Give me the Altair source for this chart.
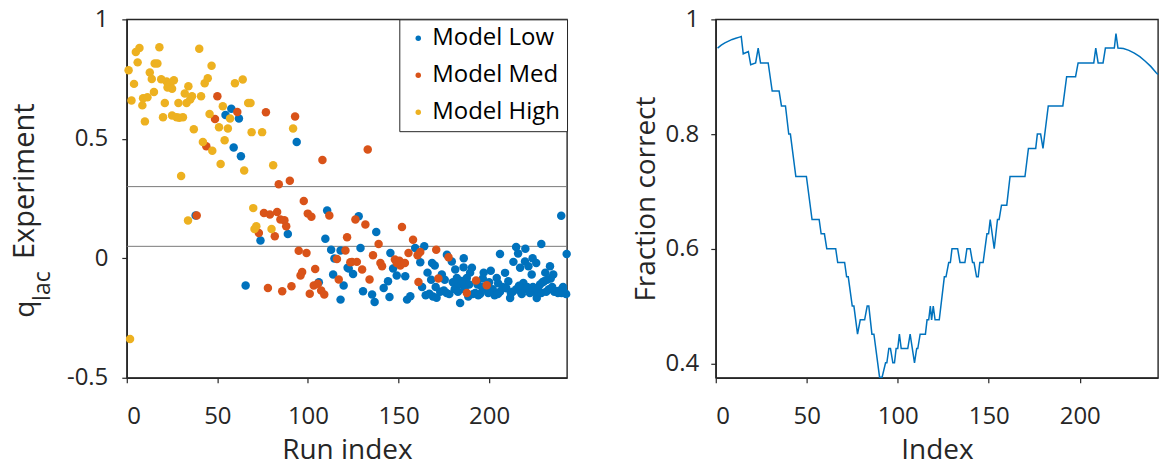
import altair as alt
import pandas as pd

FONT = "Open Sans"
AX = "#262626"

series_names = ["Model Low", "Model Med", "Model High"]
series_colors = ["#0072BD", "#D95319", "#EDB120"]

low_x = [54.5, 57.7, 61.9, 59, 63, 93.8, 38, 65.6, 73.8, 88.9, 110.6, 109.6, 112.8, 114.6, 118, 113.9,
         119.7, 118, 106, 121.9, 128, 137.7, 129, 145.5, 122.5, 124.9, 130.4, 135.4, 136.8, 141.8, 144.2,
         145, 147, 149, 153.7, 154.7, 156.5, 162, 164.2, 159.2, 165, 167, 169, 171, 173, 175, 176.5,
         173.9, 176.7, 179.4, 181.3, 182.2, 184.4, 184, 185.9, 187.7, 190.5, 192.3, 193.6, 195,
         180, 181, 183, 185, 187, 189, 191, 194, 200.9, 204.2, 206, 208.8, 210.6, 211.6, 213.4, 214.9,
         217.1, 218.9, 219.8, 221.7, 223.5, 226.3, 228.1, 228.8, 230.3, 233.6, 235.4, 237.3, 240, 241.9,
         239.8, 242.8, 200, 202, 203, 205, 206, 207.5, 213, 215, 217.5, 219.5, 221, 225, 227, 229.5, 232,
         234, 236, 238, 166, 168, 170, 163, 197, 198.5, 216, 220, 224, 226, 231, 233,
         170.5, 178, 182.8, 186.5, 188.5, 196, 199.5, 204.8, 209.5, 212, 216.5, 218, 222.5, 224.2, 228.8,
         231.5, 234.8, 239, 240.8, 242.5, 168.5, 175.5, 186, 189.5, 196.5]
low_y = [0.6, 0.626, 0.585, 0.464, 0.427, 0.487, 0.179, -0.114, 0.074, 0.102, 0.2, 0.082, 0.036, -0.001, 0.033, -0.068,
         -0.114, -0.173, -0.1, -0.04, 0.176, 0.11, 0.043, 0.022, -0.043, -0.066, -0.138, -0.152, -0.183, -0.124, -0.096,
         -0.162, -0.043, -0.072, -0.075, -0.173, -0.159, -0.017, 0.05, 0.043, -0.155, -0.148, -0.16, -0.165, -0.14, -0.135, -0.145,
         -0.068, 0.015, -0.013, -0.047, -0.082, -0.11, -0.187, -0.038, -0.082, -0.04, -0.145, -0.11, -0.149,
         -0.1, -0.13, -0.105, -0.095, -0.1, -0.11, -0.15, -0.155, -0.052, -0.082, 0.018, -0.061, -0.096, -0.166, -0.015, 0.047,
         -0.04, -0.103, -0.013, -0.033, -0.068, -0.166, -0.11, 0.06, -0.096, -0.033, -0.068, -0.138, -0.145, -0.145,
         0.178, 0.018, -0.1, -0.13, -0.155, -0.105, -0.14, -0.12, -0.14, -0.13, -0.14, -0.13, -0.12, -0.14, -0.125, -0.1, -0.09,
         -0.085, -0.14, -0.145, -0.06, -0.09, -0.03, -0.12, -0.06, -0.13, 0.02, 0.04, 0.0, -0.02, -0.06, -0.13,
         -0.12, -0.15, -0.14, -0.13, -0.16, -0.12, -0.145, -0.15, -0.125, -0.145, -0.115, -0.15, -0.145, -0.12, -0.145,
         -0.14, -0.12, -0.135, -0.12, -0.15, -0.02, -0.09, 0.0, -0.06, -0.085]

med_x = [50, 48.7, 61, 43.9, 76.8, 92.9, 108, 83.9, 90, 97.7, 133, 38.6, 75.7, 79, 83, 84.8, 87, 88, 72.9, 81.7,
         99.9, 101.9, 111.8, 94.9, 99.2, 96.8, 95.9, 104, 77.9, 85.8, 90.9, 101, 103.2, 105.4, 107.3, 109,
         116, 117, 121.6, 120.7, 123.4, 126.2, 131.7, 139, 124.3, 127, 129.9, 135.9, 140, 140.9, 134,
         151.9, 158, 148, 150.5, 151, 153.5, 149, 155.5, 160.5, 162, 161, 170.8, 177.6, 172, 187.7, 192.8, 198.7]
med_y = [0.678, 0.583, 0.612, 0.469, 0.611, 0.593, 0.411, 0.31, 0.325, 0.24, 0.455, 0.179, 0.19, 0.183, 0.194, 0.162, 0.159, 0.134, 0.106, 0.092,
         0.187, 0.174, 0.179, 0.032, 0.022, -0.057, -0.072, -0.045, -0.124, -0.138, -0.117, -0.148, -0.114, -0.107, -0.135, -0.152,
         -0.003, -0.089, 0.088, 0.033, -0.017, 0.162, 0.141, 0.06, -0.015, -0.015, -0.047, 0.013, -0.02, -0.033, -0.089,
         0.131, 0.078, -0.005, -0.01, -0.03, -0.02, -0.02, 0.022, 0.013, 0.026, -0.099, 0.036, 0.004, -0.085, -0.145, -0.093, -0.113]

high_x = [1, 5, 7, 6, 4, 2.6, 9, 8.6, 10, 12.7, 13.8, 15, 11.4, 15.4, 16.9, 18, 19, 21, 22, 23, 24, 22.5, 25, 26,
          20, 25, 27.5, 29, 31, 28.5, 30, 32, 34, 35, 33, 36, 40, 41, 43, 44.7, 46.8, 37, 45.7, 42, 47.2, 50.9,
          51.8, 53, 54, 55.8, 57, 59.7, 64, 64.8, 67, 68.3, 68.9, 74.7, 80.8, 91.8, 1.8, 33.8, 69.8, 71.5, 70.5, 79.9]
high_y = [0.787, 0.863, 0.88, 0.82, 0.73, 0.66, 0.67, 0.64, 0.573, 0.778, 0.75, 0.696, 0.674, 0.815, 0.815, 0.883, 0.749, 0.65, 0.74, 0.725, 0.73, 0.715, 0.71, 0.745,
          0.59, 0.598, 0.59, 0.588, 0.59, 0.65, 0.344, 0.69, 0.72, 0.665, 0.65, 0.678, 0.877, 0.678, 0.733, 0.754, 0.806, 0.54, 0.604, 0.487, 0.45, 0.548,
          0.395, 0.636, 0.494, 0.543, 0.585, 0.733, 0.748, 0.367, 0.65, 0.65, 0.528, 0.528, 0.389, 0.543, -0.338, 0.158, 0.21, 0.134, 0.123, 0.123]

ref_lines = [0.3, 0.05]

frac_x = [1, 3, 5, 7, 9, 11, 13, 14, 15.1, 17.9, 19.2, 21.9, 23.3, 24.6, 28.8, 31, 34.8, 36.1, 38.3, 40.1, 41, 44, 49.8,
          52.9, 56.8, 57.9, 59.7, 61, 65.9, 67, 70.8, 71.9, 72.8, 75, 75.9, 77.9, 79.4, 81.8, 83.2, 84.1, 85.8, 86.9,
          90, 91.4, 93.3, 94, 95.1, 96, 97.3, 98.2, 99.1, 100, 100.9, 101.9, 105.5, 106.8, 109.2, 110.4, 111, 112.3,
          115.2, 116.1, 117, 117.9, 118.6, 119.5, 120.5, 122.8, 125.6, 126.5, 128, 128.9, 129.8, 132.9, 134.2, 136.9,
          138, 139.8, 141.1, 141.9, 143.3, 144.2, 145.1, 146.9, 149, 149.9, 150.8, 153, 154.8, 155.7, 157, 159.9,
          161.7, 169.9, 171.8, 175.8, 176.7, 178.5, 179.8, 182.7, 190.7, 192.8, 197.7, 199.1, 207.7, 208.8, 210.1,
          212.8, 214.1, 219, 219.9, 221, 224, 227, 230, 233, 236, 239, 242, 243]
frac_y = [0.950, 0.955, 0.959, 0.962, 0.965, 0.967, 0.969, 0.970, 0.94, 0.944, 0.921, 0.924, 0.95, 0.924, 0.924, 0.875, 0.875,
          0.849, 0.849, 0.8, 0.8, 0.726, 0.726, 0.651, 0.651, 0.626, 0.626, 0.6, 0.6, 0.576, 0.576, 0.551, 0.551, 0.5, 0.5,
          0.451, 0.476, 0.476, 0.5, 0.5, 0.451, 0.451, 0.376, 0.376, 0.401, 0.401, 0.426, 0.426, 0.401, 0.401, 0.426, 0.426,
          0.451, 0.426, 0.426, 0.451, 0.401, 0.426, 0.426, 0.451, 0.451, 0.476, 0.476, 0.5, 0.476, 0.5, 0.476, 0.476,
          0.551, 0.551, 0.576, 0.576, 0.6, 0.6, 0.576, 0.576, 0.6, 0.6, 0.576, 0.576, 0.551, 0.551, 0.576, 0.576,
          0.626, 0.626, 0.651, 0.6, 0.651, 0.651, 0.676, 0.676, 0.726, 0.726, 0.775, 0.775, 0.8, 0.8, 0.775, 0.849,
          0.849, 0.9, 0.9, 0.924, 0.924, 0.95, 0.924, 0.924, 0.95, 0.95, 0.975, 0.95, 0.949, 0.946, 0.941, 0.935,
          0.927, 0.918, 0.907, 0.904]

# ---------- tables ----------
scatter_df = pd.concat([
    pd.DataFrame({"x": low_x, "y": low_y, "series": series_names[0]}),
    pd.DataFrame({"x": med_x, "y": med_y, "series": series_names[1]}),
    pd.DataFrame({"x": high_x, "y": high_y, "series": series_names[2]}),
], ignore_index=True)
rules_df = pd.DataFrame({"y": ref_lines})
line_df = pd.DataFrame({"x": frac_x, "y": frac_y})

W_L, W_R, H = 441, 443, 359
X_DOMAIN = [0, 243]
ORIGIN_X, ORIGIN_Y = 126, 18

x_left = alt.Scale(domain=X_DOMAIN, nice=False, zero=False)
y_left = alt.Scale(domain=[-0.5, 1], nice=False, zero=False)

XAXIS = dict(values=[0, 50, 100, 150, 200], labelPadding=22, titlePadding=8)

rules = alt.Chart(rules_df).mark_rule(color="#7a7a7a", strokeWidth=1).encode(
    y=alt.Y("y:Q", scale=y_left)
)

# invisible anchor that pins the chart's top-left bound
anchor = alt.Chart(pd.DataFrame({"a": [0]})).mark_rule(strokeOpacity=0, strokeWidth=0).encode(
    x=alt.value(-ORIGIN_X), x2=alt.value(-ORIGIN_X + 1),
    y=alt.value(-ORIGIN_Y), y2=alt.value(-ORIGIN_Y + 1),
)

points = alt.Chart(scatter_df).mark_circle(size=72, opacity=1).encode(
    x=alt.X("x:Q", scale=x_left, axis=alt.Axis(title="Run index", **XAXIS)),
    y=alt.Y("y:Q", scale=y_left,
            axis=alt.Axis(values=[-0.5, 0, 0.5, 1], labelExpr="'' + datum.value", title=None,
                          labelPadding=14)),
    color=alt.Color("series:N",
                    scale=alt.Scale(domain=series_names, range=series_colors),
                    sort=series_names,
                    legend=alt.Legend(title=None, orient="top-right", offset=0,
                                      fillColor="white", strokeColor=AX, padding=7,
                                      symbolType="circle", symbolSize=30, symbolOffset=0,
                                      labelOffset=2, rowPadding=13,
                                      labelFont=FONT, labelFontSize=24, labelColor="#000000")),
)

TX = -93
q_txt = alt.Chart(pd.DataFrame({"t": ["q"]})).mark_text(
    font=FONT, fontSize=28, angle=270, align="left", baseline="alphabetic", color=AX
).encode(text="t:N", x=alt.value(TX), y=alt.value(299))
lac_txt = alt.Chart(pd.DataFrame({"t": ["lac"]})).mark_text(
    font=FONT, fontSize=23, angle=270, align="left", baseline="alphabetic", color=AX
).encode(text="t:N", x=alt.value(TX + 16), y=alt.value(282))
exp_txt = alt.Chart(pd.DataFrame({"t": ["Experiment"]})).mark_text(
    font=FONT, fontSize=29, angle=270, align="left", baseline="alphabetic", color=AX
).encode(text="t:N", x=alt.value(TX), y=alt.value(240))

left = alt.layer(anchor, rules, points, q_txt, lac_txt, exp_txt).properties(width=W_L, height=H)

right = alt.Chart(line_df).mark_line(color="#0072BD", strokeWidth=1.5).encode(
    x=alt.X("x:Q", scale=alt.Scale(domain=X_DOMAIN, nice=False, zero=False),
            axis=alt.Axis(title="Index", **XAXIS)),
    y=alt.Y("y:Q", scale=alt.Scale(domain=[0.375, 1], nice=False, zero=False),
            axis=alt.Axis(values=[0.4, 0.6, 0.8, 1],
                          labelExpr="datum.value == 1 ? '1' : format(datum.value, '.1f')",
                          title="Fraction correct", labelPadding=12, titlePadding=5)),
).properties(width=W_R, height=H)

chart = alt.hconcat(left, right, spacing=149, bounds="flush").resolve_legend(
    color="independent"
).properties(
    padding=0, background="white",
).configure_view(
    stroke=AX, strokeWidth=1.4
).configure_axis(
    grid=False, domainColor=AX, domainWidth=1.4, tickColor=AX, tickWidth=1.2, tickSize=5,
    labelFont=FONT, labelFontSize=24, labelColor=AX,
    titleFont=FONT, titleFontSize=28, titleFontWeight="normal", titleColor=AX,
)

chart.save("out.html", embed_options={"renderer": "svg", "actions": False})
